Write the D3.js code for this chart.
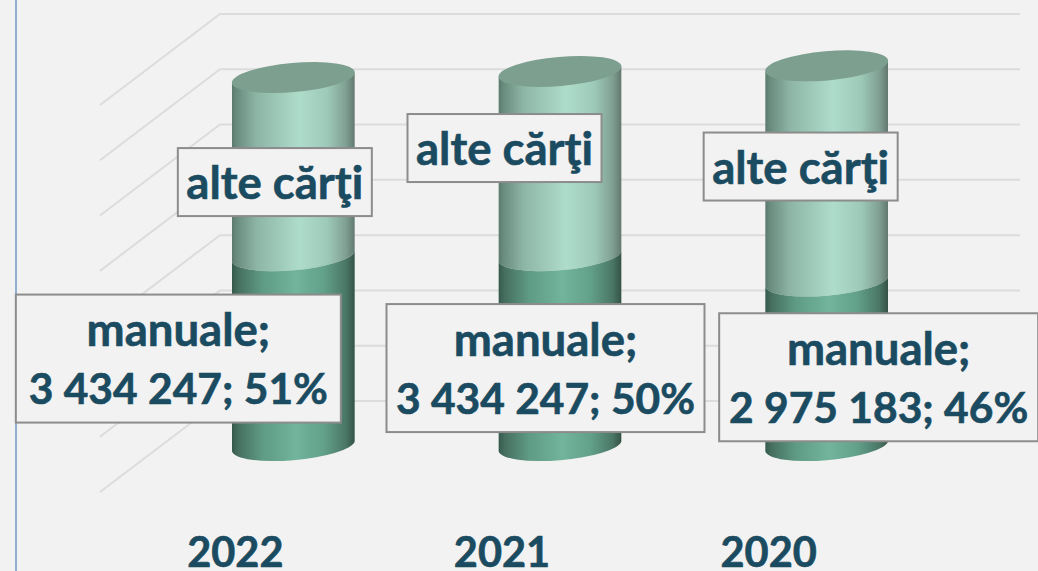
<!DOCTYPE html>
<html lang="ro">
<head>
    <meta charset="UTF-8">
    <script src="https://d3js.org/d3.v7.min.js"></script>
    <title>Manuale si alte carti</title>
    <style>
        html, body { margin: 0; padding: 0; background: #f2f2f2; overflow: hidden; }
        svg { display: block; font-family: Lato, sans-serif; }
    </style>
</head>
<body>
    <div id="chart"></div>
    <script>
        // Data
        const years = ["2022", "2021", "2020"];
        const manuale = [3434247, 3434247, 2975183];
        const alteCarti = [3240000, 3350000, 3910000];   // read from cylinder heights
        const shares = [51, 50, 46];
        const gridTicks = [0, 1e6, 2e6, 3e6, 4e6, 5e6, 6e6, 7e6];

        const width = 1038, height = 571;
        const textColor = "#1a4b60";
        const wordSize = 45.5, numberSize = 42.5, yearSize = 41.5;

        // 3D floor: cylinders stand mid depth, gridlines wrap from front to back
        const depthX = 60, depthY = 45.5;
        const rot = -5, rx = 61.7, ry = 14.6, edgeDy = 5.1;

        const xScale = d3.scaleBand()
            .domain(years)
            .range([160, 960])
            .paddingInner(0.54)
            .paddingOuter(0.27);

        // y scale of the back wall
        const yScale = d3.scaleLinear().domain([0, 7e6]).range([401, 14]);

        const svg = d3.select("#chart").append("svg")
            .attr("width", width)
            .attr("height", height);

        svg.append("rect").attr("width", width).attr("height", height).attr("fill", "#f2f2f2");

        // Left rule
        svg.append("line")
            .attr("x1", 16).attr("x2", 16)
            .attr("y1", 0).attr("y2", height)
            .attr("stroke", "#8fb0d2").attr("stroke-width", 2);

        // Gradients
        const defs = svg.append("defs");
        function gradient(id, stops) {
            const g = defs.append("linearGradient").attr("id", id)
                .attr("x1", 0).attr("x2", 1).attr("y1", 0).attr("y2", 0);
            stops.forEach(s => g.append("stop").attr("offset", s[0]).attr("stop-color", s[1]));
        }
        gradient("sideAlte", [[0, "#5c7a6e"], [0.04, "#6a8c7e"], [0.2, "#8db5a5"], [0.55, "#aedccb"], [0.78, "#9dc9b8"], [0.93, "#7f9f92"], [1, "#62786f"]]);
        gradient("sideManuale", [[0, "#355a4c"], [0.05, "#466f60"], [0.25, "#5f9b85"], [0.52, "#72b49c"], [0.75, "#62a08a"], [0.93, "#4a7666"], [1, "#345245"]]);

        // Gridlines
        svg.append("g").selectAll("path")
            .data(gridTicks)
            .join("path")
            .attr("d", d => {
                const y = yScale(d);
                return `M${xScale.range()[0] - depthX},${y + 2 * depthY}L${xScale.range()[0] + depthX},${y}H1020`;
            })
            .attr("fill", "none")
            .attr("stroke", "#dcdcdc")
            .attr("stroke-width", 2);

        // Cylinder side from v0 up to v1
        function sidePath(cx, v0, v1) {
            const y0 = yScale(v0) + depthY, y1 = yScale(v1) + depthY;
            const l = cx - xScale.bandwidth() / 2, r = cx + xScale.bandwidth() / 2;
            return `M${l},${y1 + edgeDy}A${rx},${ry} ${rot} 0 0 ${r},${y1 - edgeDy}` +
                `V${y0 - edgeDy}A${rx},${ry} ${rot} 0 1 ${l},${y0 + edgeDy}Z`;
        }

        const cyl = svg.append("g").selectAll("g")
            .data(years)
            .join("g");

        cyl.append("path")
            .attr("d", (d, i) => {
                const cx = xScale(d) + xScale.bandwidth() / 2;
                return sidePath(cx, manuale[i], manuale[i] + alteCarti[i]);
            })
            .attr("fill", "url(#sideAlte)");

        cyl.append("path")
            .attr("d", (d, i) => sidePath(xScale(d) + xScale.bandwidth() / 2, 0, manuale[i]))
            .attr("fill", "url(#sideManuale)");

        cyl.append("ellipse")
            .attr("rx", rx).attr("ry", ry)
            .attr("transform", (d, i) => {
                const cx = xScale(d) + xScale.bandwidth() / 2;
                const cy = yScale(manuale[i] + alteCarti[i]) + depthY;
                return `translate(${cx},${cy}) rotate(${rot})`;
            })
            .attr("fill", "#7d9f90");

        function label(cx, y, str, size) {
            svg.append("text")
                .attr("x", cx).attr("y", y)
                .attr("text-anchor", "middle")
                .attr("font-size", size)
                .attr("font-weight", 700)
                .attr("fill", textColor)
                .attr("stroke", textColor)
                .attr("stroke-width", 0.6)
                .text(str);
        }

        // Category labels sit on the front edge of the floor
        years.forEach(d => label(xScale(d) + xScale.bandwidth() / 2 - depthX + 2, 567, d, yearSize));

        // Data labels, moved by hand in the original so keep their offsets
        const fmt = d3.formatLocale({ thousands: " ", grouping: [3], decimal: ",", currency: ["", ""] }).format(",d");
        const manualeOffsets = [[-115, 7], [-14.5, 16.5], [52, 13]];
        const alteOffsets = [[-18.5, 15], [-55.5, -16], [-26, -7.4]];
        const manualeBoxW = [325, 318, 319], manualeBoxH = 128;
        const alteBoxW = 194, alteBoxH = 68;

        function box(cx, cy, w, h) {
            svg.append("rect")
                .attr("x", cx - w / 2).attr("y", cy - h / 2)
                .attr("width", w).attr("height", h)
                .attr("fill", "#f2f2f2")
                .attr("stroke", "#8c8c8c")
                .attr("stroke-width", 2);
        }

        years.forEach((d, i) => {
            const c = xScale(d) + xScale.bandwidth() / 2;

            const aMid = yScale(manuale[i] + alteCarti[i] / 2) + depthY;
            const ax = c + alteOffsets[i][0], ay = aMid + alteOffsets[i][1];
            box(ax, ay, alteBoxW, alteBoxH);
            label(ax, ay + 17, "alte cărţi", wordSize);

            const mMid = yScale(manuale[i] / 2) + depthY;
            const mx = c + manualeOffsets[i][0], my = mMid + manualeOffsets[i][1];
            box(mx, my, manualeBoxW[i], manualeBoxH);
            label(mx, my - 12.5, "manuale;", wordSize);
            label(mx, my + 45.5, `${fmt(manuale[i])}; ${shares[i]}%`, numberSize);
        });
    </script>
</body>
</html>
